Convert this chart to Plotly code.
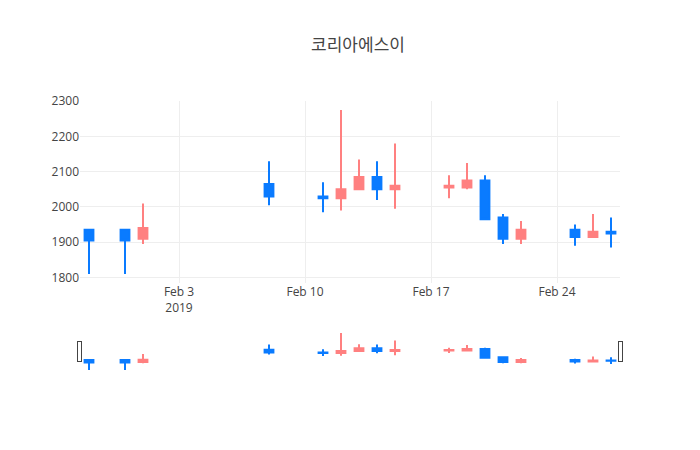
import plotly.graph_objects as go

# daily prices
dates = ["2019-01-29", "2019-01-31", "2019-02-01", "2019-02-08", "2019-02-11",
         "2019-02-12", "2019-02-13", "2019-02-14", "2019-02-15", "2019-02-18",
         "2019-02-19", "2019-02-20", "2019-02-21", "2019-02-22", "2019-02-25",
         "2019-02-26", "2019-02-27"]
open_ = [1935, 1935, 1910, 2065, 2030, 2025, 2050, 2085, 2050, 2055,
         2055, 2075, 1970, 1910, 1935, 1915, 1930]
high = [1935, 1935, 2010, 2130, 2070, 2275, 2135, 2130, 2180, 2090,
        2125, 2090, 1980, 1960, 1950, 1980, 1970]
low = [1810, 1810, 1895, 2005, 1985, 1990, 2050, 2020, 1995, 2025,
       2050, 1965, 1895, 1895, 1890, 1915, 1885]
close = [1905, 1905, 1940, 2030, 2025, 2050, 2085, 2050, 2060, 2060,
         2075, 1965, 1910, 1935, 1915, 1930, 1925]

UP = "#ff8080"
DOWN = "#0a7bff"

fig = go.Figure(go.Candlestick(
    x=dates, open=open_, high=high, low=low, close=close,
    increasing={"line": {"color": UP}, "fillcolor": UP},
    decreasing={"line": {"color": DOWN}, "fillcolor": DOWN},
    showlegend=False,
))
# page body adds an offset, so shift the margins to line up with the original
fig.update_layout(
    title={"text": "코리아에스이", "x": 0.5, "xanchor": "center",
           "yref": "container", "y": 0.918, "yanchor": "middle"},
    font={"family": "Open Sans, Noto Sans CJK KR", "color": "#444"},
    template="none",
    width=700, height=450,
    margin={"l": 72, "r": 88, "t": 93, "b": 87},
)
fig.update_xaxes(gridcolor="#eee")
fig.update_yaxes(gridcolor="#eee")
fig.write_html("out.html")
